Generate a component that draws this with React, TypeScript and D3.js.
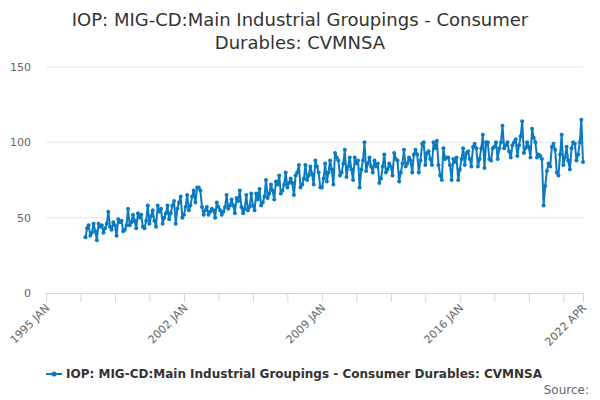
import React, { useEffect, useRef } from 'react';
import * as d3 from 'd3';

const titleLines = ['IOP: MIG-CD:Main Industrial Groupings - Consumer', 'Durables: CVMNSA'];
const seriesName = 'IOP: MIG-CD:Main Industrial Groupings - Consumer Durables: CVMNSA';
const sourceText = 'Source:';

const axisStart = new Date(1995, 0, 1);
const axisEnd = new Date(2022, 3, 1);
const dataStart = new Date(1997, 0, 1);
const tickStepMonths = 21;
const yTicks = [0, 50, 100, 150];
const monthNames = ['JAN', 'FEB', 'MAR', 'APR', 'MAY', 'JUN', 'JUL', 'AUG', 'SEP', 'OCT', 'NOV', 'DEC'];

// monthly index values, Jan..Dec per row, 1997 onwards
const values: number[] = [
  37, 43, 45, 38, 40, 46, 41, 35, 46, 44, 45, 40, // 1997
  43, 46, 54, 44, 42, 47, 45, 38, 49, 47, 48, 41, // 1998
  42, 45, 56, 45, 47, 52, 48, 43, 53, 50, 52, 44, // 1999
  43, 48, 58, 46, 51, 55, 48, 44, 58, 54, 56, 46, // 2000
  50, 53, 58, 49, 53, 58, 61, 46, 56, 60, 64, 50, // 2001
  52, 57, 65, 55, 58, 64, 68, 60, 70, 70, 68, 57, // 2002
  52, 55, 57, 52, 54, 56, 55, 50, 60, 57, 55, 52, // 2003
  54, 57, 65, 56, 58, 62, 58, 53, 63, 61, 68, 57, // 2004
  53, 56, 65, 55, 57, 66, 58, 55, 66, 62, 69, 58, // 2005
  60, 64, 75, 63, 66, 72, 68, 62, 74, 72, 78, 66, // 2006
  68, 72, 80, 70, 73, 76, 73, 65, 78, 80, 85, 70, // 2007
  72, 76, 85, 75, 78, 84, 79, 72, 88, 84, 80, 70, // 2008
  70, 76, 86, 74, 80, 88, 82, 72, 93, 90, 88, 78, // 2009
  80, 86, 95, 77, 84, 90, 82, 75, 90, 86, 88, 70, // 2010
  82, 88, 100, 81, 86, 90, 84, 80, 88, 84, 86, 73, // 2011
  76, 84, 92, 80, 82, 86, 84, 78, 93, 89, 88, 74, // 2012
  80, 86, 95, 84, 86, 90, 88, 80, 92, 95, 92, 80, // 2013
  88, 99, 100, 85, 93, 94, 89, 85, 100, 96, 101, 85, // 2014
  78, 75, 96, 89, 90, 90, 85, 75, 89, 87, 90, 75, // 2015
  82, 89, 96, 85, 93, 94, 89, 84, 97, 99, 96, 84, // 2016
  89, 96, 105, 83, 100, 100, 89, 88, 96, 97, 100, 89, // 2017
  96, 100, 111, 96, 98, 100, 94, 90, 98, 100, 102, 91, // 2018
  98, 104, 114, 93, 96, 100, 97, 90, 109, 103, 100, 90, // 2019
  92, 91, 89, 58, 71, 81, 86, 84, 97, 99, 95, 80, // 2020
  78, 92, 105, 85, 90, 97, 88, 82, 96, 100, 99, 88, // 2021
  92, 100, 115, 87, // 2022
];

const lineColor = '#0b7bc1';

const Chart: React.FC = () => {
  const ref = useRef<SVGSVGElement | null>(null);

  useEffect(() => {
    const svg = d3.select(ref.current!);
    svg.selectAll('*').remove();

    const width = 600;
    const height = 400;
    const margin = { top: 67, right: 17, bottom: 107, left: 46 };
    const font = '"DejaVu Sans", Arial, sans-serif';

    const data = values.map((v, i) => ({ date: d3.timeMonth.offset(dataStart, i), value: v }));

    const x = d3.scaleTime().domain([axisStart, axisEnd]).range([margin.left, width - margin.right]);
    const y = d3.scaleLinear().domain([0, 150]).range([height - margin.bottom, margin.top]);

    svg.append('rect').attr('width', width).attr('height', height).attr('fill', '#fff');

    // title
    svg
      .append('g')
      .selectAll('text')
      .data(titleLines)
      .enter()
      .append('text')
      .attr('x', width / 2)
      .attr('y', (d, i) => 26 + i * 23)
      .attr('text-anchor', 'middle')
      .style('font-family', font)
      .style('font-size', '18px')
      .style('fill', '#333333')
      .text((d) => d);

    // grid + y labels
    const grid = svg.append('g');
    grid
      .selectAll('line')
      .data(yTicks.filter((t) => t > 0))
      .enter()
      .append('line')
      .attr('x1', margin.left)
      .attr('x2', width - margin.right)
      .attr('y1', (d) => y(d))
      .attr('y2', (d) => y(d))
      .attr('stroke', '#e6e6e6')
      .attr('stroke-width', 1);

    grid
      .selectAll('text')
      .data(yTicks)
      .enter()
      .append('text')
      .attr('x', margin.left - 15)
      .attr('y', (d) => y(d) + 4)
      .attr('text-anchor', 'end')
      .style('font-family', font)
      .style('font-size', '11px')
      .style('fill', '#666666')
      .text((d) => d);

    // x axis
    const ticks: Date[] = [];
    for (let d = axisStart; d < axisEnd; d = d3.timeMonth.offset(d, tickStepMonths)) ticks.push(d);
    ticks.push(axisEnd);
    const labelled = ticks.filter((d, i) => i % 4 === 0 || i === ticks.length - 1);

    const xAxis = d3
      .axisBottom(x)
      .tickValues(ticks)
      .tickSize(9)
      .tickFormat((d) => {
        const dt = d as Date;
        return labelled.includes(dt) ? `${dt.getFullYear()} ${monthNames[dt.getMonth()]}` : '';
      });

    const gx = svg
      .append('g')
      .attr('transform', `translate(0,${y(0)})`)
      .call(xAxis);
    gx.select('.domain').attr('stroke', '#ccd6eb');
    gx.selectAll('.tick line').attr('stroke', '#ccd6eb');
    gx.selectAll('.tick text')
      .attr('transform', 'translate(1,13) rotate(-45)')
      .attr('dy', '0.35em')
      .attr('y', 0)
      .attr('x', 0)
      .style('text-anchor', 'end')
      .style('font-family', font)
      .style('font-size', '11px')
      .style('fill', '#666666');

    // series
    const line = d3
      .line<{ date: Date; value: number }>()
      .x((d) => x(d.date))
      .y((d) => y(d.value));

    svg
      .append('path')
      .datum(data)
      .attr('d', line)
      .attr('fill', 'none')
      .attr('stroke', lineColor)
      .attr('stroke-width', 2)
      .attr('stroke-linejoin', 'round');

    svg
      .append('g')
      .selectAll('circle')
      .data(data)
      .enter()
      .append('circle')
      .attr('cx', (d) => x(d.date))
      .attr('cy', (d) => y(d.value))
      .attr('r', 2)
      .attr('fill', lineColor);

    // legend
    const leg = svg.append('g').attr('transform', 'translate(0,374)');
    leg.append('line').attr('x1', 46).attr('x2', 62).attr('y1', 0).attr('y2', 0).attr('stroke', lineColor).attr('stroke-width', 2);
    leg.append('circle').attr('cx', 54).attr('cy', 0).attr('r', 2.5).attr('fill', lineColor);
    leg
      .append('text')
      .attr('x', 66)
      .attr('y', 4)
      .style('font-family', font)
      .style('font-size', '12px')
      .style('font-weight', 'bold')
      .style('fill', '#333333')
      .text(seriesName);

    svg
      .append('text')
      .attr('x', 589)
      .attr('y', 394)
      .attr('text-anchor', 'end')
      .style('font-family', font)
      .style('font-size', '12px')
      .style('fill', '#666666')
      .text(sourceText);
  }, []);

  return <svg ref={ref} width={600} height={400} style={{ display: 'block' }} />;
};

export default function App() {
  // pinned to the page corner so the body margin doesn't add scrollbars
  return (
    <div style={{ position: 'fixed', left: 0, top: 0 }}>
      <Chart />
    </div>
  );
}
